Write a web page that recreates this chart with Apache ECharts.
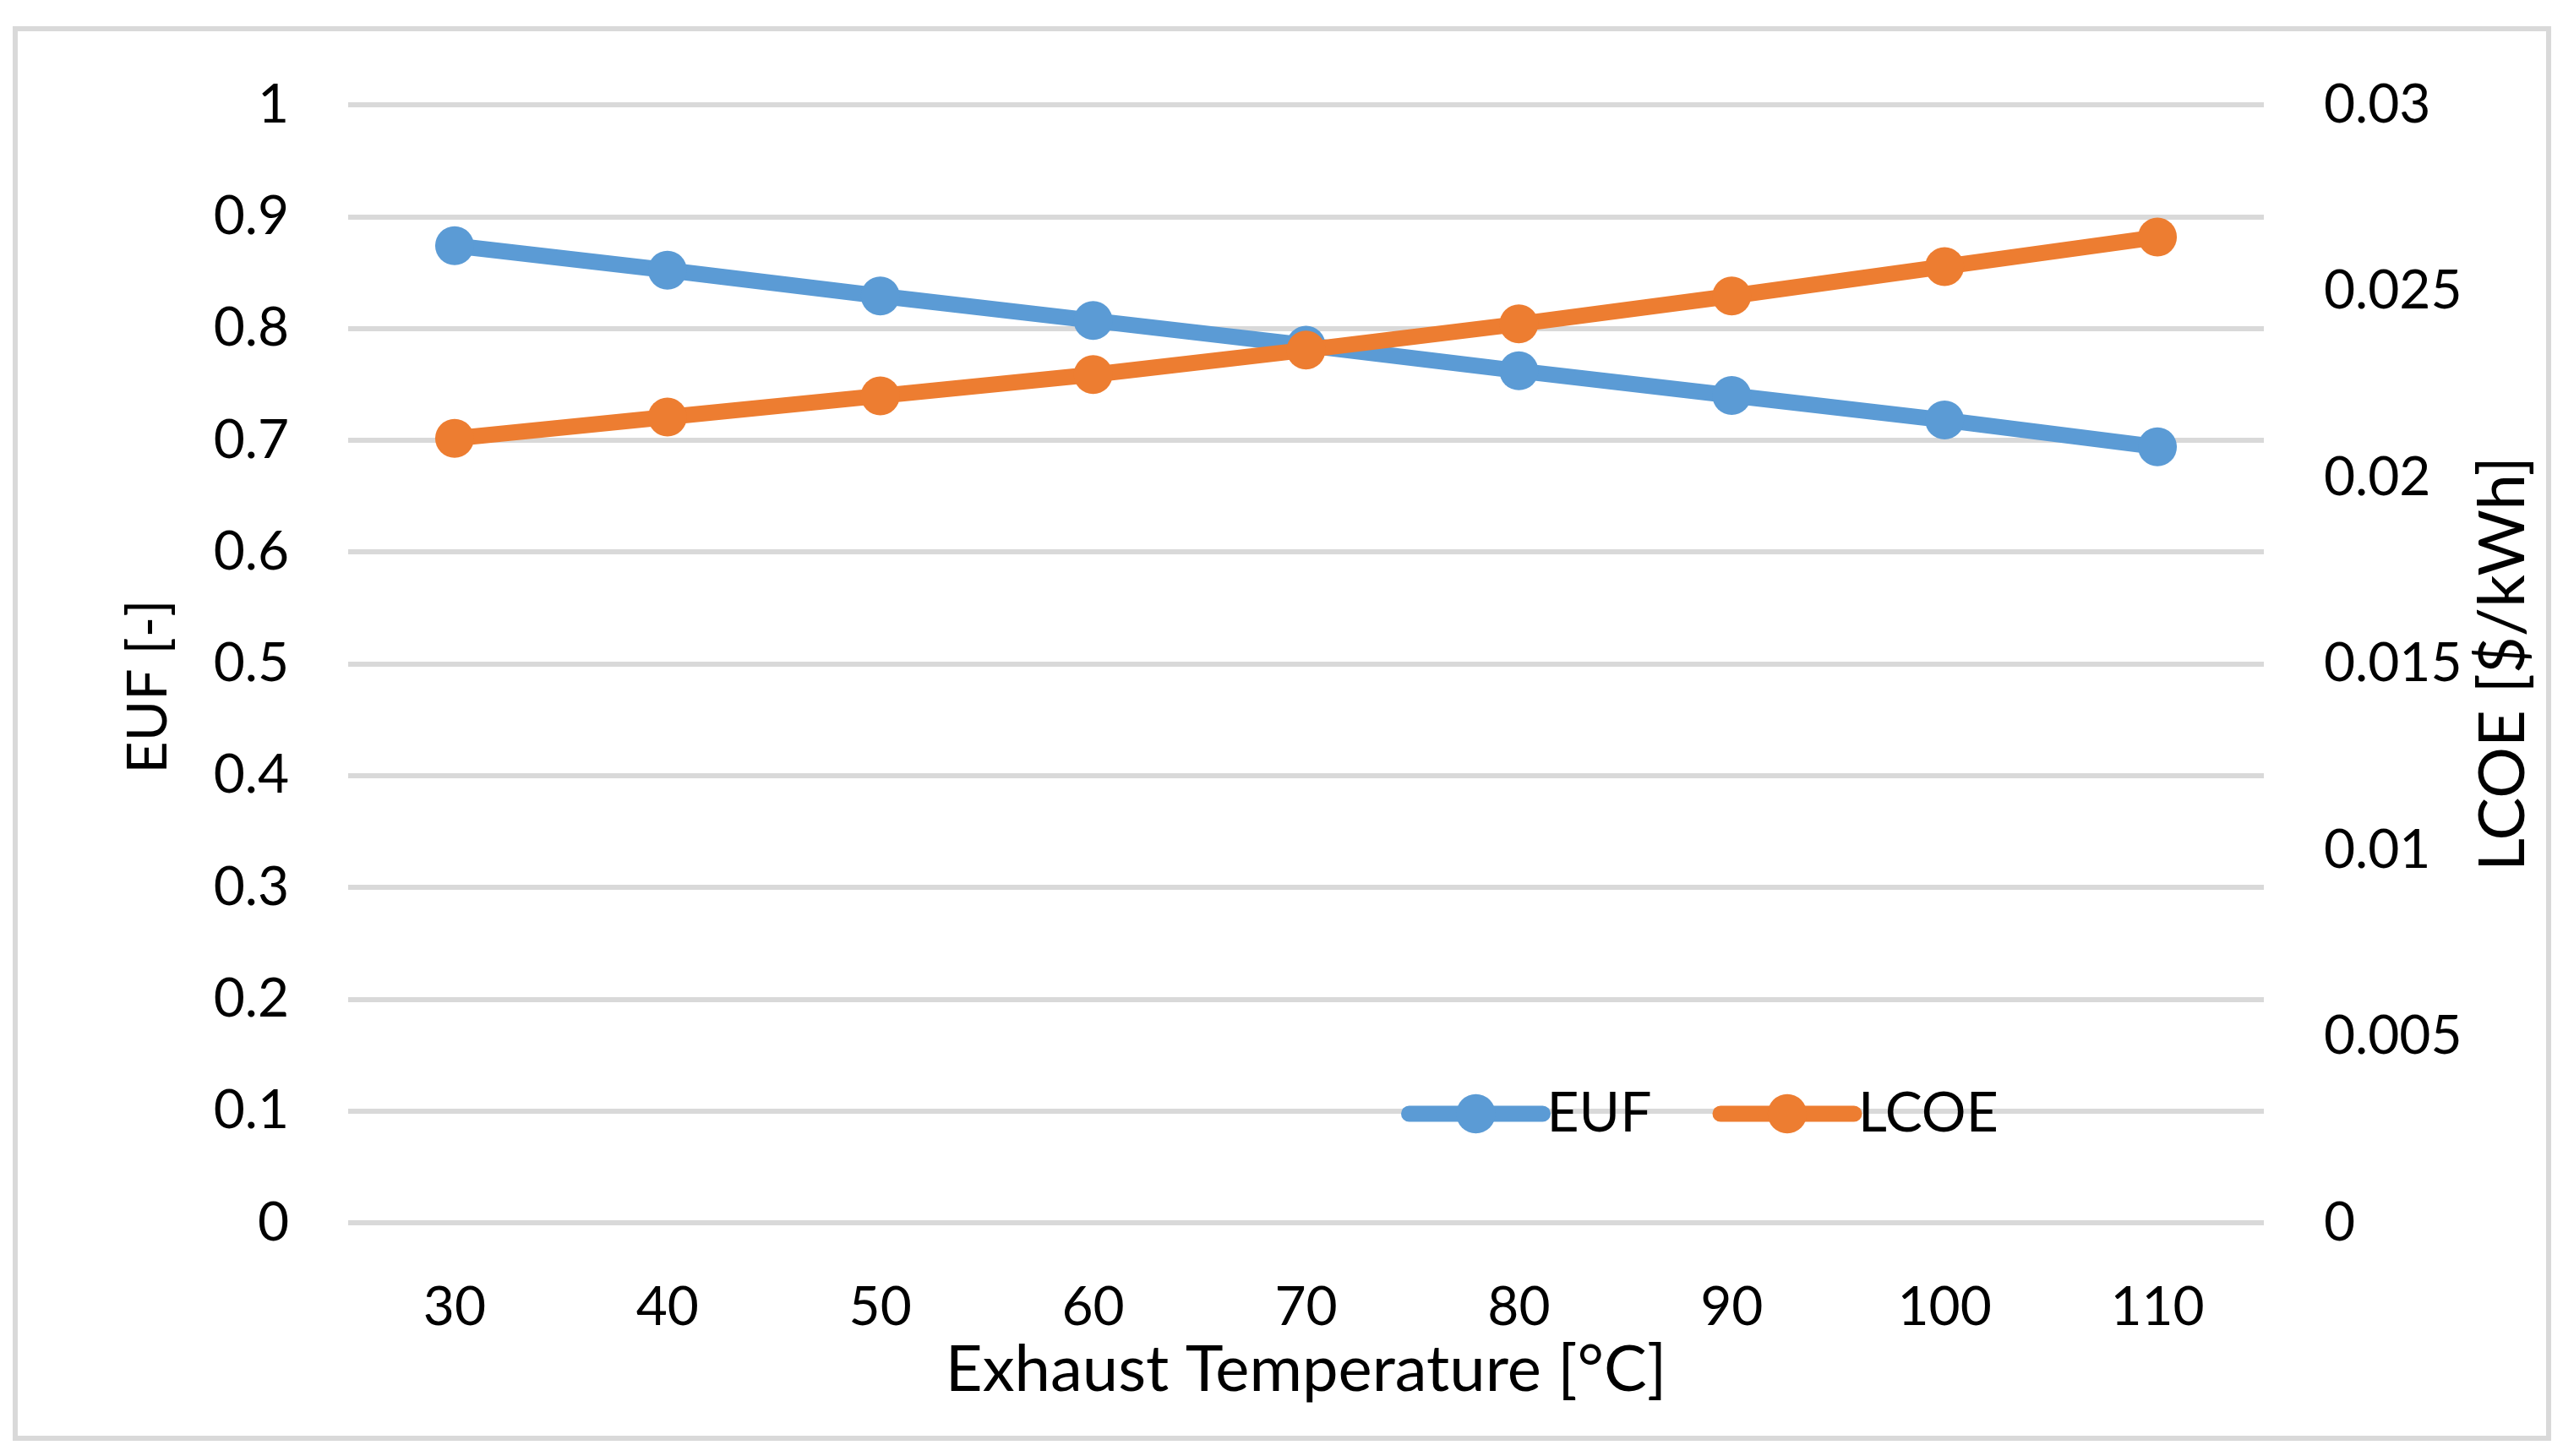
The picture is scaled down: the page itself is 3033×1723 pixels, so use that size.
<!DOCTYPE html>
<html>
<head>
<meta charset="utf-8">
<script src="https://cdn.jsdelivr.net/npm/echarts@6/dist/echarts.min.js"></script>
<style>html,body{margin:0;padding:0;background:#fff;}#c{width:3033px;height:1723px;}</style>
</head>
<body>
<div id="c"></div>
<script>
var categories = ['30','40','50','60','70','80','90','100','110'];
var eufValues = [0.874, 0.852, 0.829, 0.807, 0.785, 0.762, 0.740, 0.718, 0.694];
var lcoeValues = [0.02105, 0.02162, 0.02219, 0.02276, 0.02342, 0.02412, 0.02487, 0.02566, 0.02645];
var leftTicks = [0, 0.1, 0.2, 0.3, 0.4, 0.5, 0.6, 0.7, 0.8, 0.9, 1];
var rightTicks = [0, 0.005, 0.01, 0.015, 0.02, 0.025, 0.03];

var FONT = 'Lato';
var chart = echarts.init(document.getElementById('c'));
chart.setOption({
  animation: false,
  backgroundColor: '#fff',
  textStyle: {fontFamily: FONT},
  graphic: [{
    type: 'rect', shape: {x: 18, y: 34, width: 2998, height: 1668},
    style: {fill: 'none', stroke: '#d9d9d9', lineWidth: 6}, silent: true, z: -1
  }],
  grid: {left: 412, right: 354, top: 124, bottom: 276, containLabel: false},
  legend: {
    data: ['EUF', 'LCOE'],
    left: 1653, top: 1280,
    itemWidth: 158, itemHeight: 58, itemGap: 72,
    lineStyle: {width: 19, cap: 'round'},
    textStyle: {fontFamily: FONT, fontSize: 66, color: '#000', padding: [0, 0, 0, 0]}
  },
  xAxis: {
    type: 'category', data: categories, boundaryGap: true,
    axisLine: {show: false}, axisTick: {show: false},
    axisLabel: {fontFamily: FONT, fontSize: 64, color: '#000', margin: 68},
    name: 'Exhaust Temperature [°C]', nameLocation: 'middle', nameGap: 128,
    nameTextStyle: {fontFamily: FONT, fontSize: 76, color: '#000'}
  },
  yAxis: [{
    type: 'value', min: 0, max: 1, interval: 0.1,
    axisLine: {show: false}, axisTick: {show: false},
    axisLabel: {fontFamily: FONT, fontSize: 64, color: '#000', margin: 70,
      formatter: function (v) { return leftTicks.indexOf(Math.round(v*10)/10) >= 0 ? String(Math.round(v*10)/10) : ''; }},
    splitLine: {lineStyle: {color: '#d9d9d9', width: 6}},
    name: 'EUF [-]', nameLocation: 'middle', nameGap: 203,
    nameTextStyle: {fontFamily: FONT, fontSize: 66, color: '#000', padding: [0, 54, 0, 0]}
  }, {
    type: 'value', min: 0, max: 0.03, interval: 0.005,
    axisLine: {show: false}, axisTick: {show: false},
    axisLabel: {fontFamily: FONT, fontSize: 64, color: '#000', margin: 71,
      formatter: function (v) { var r = Math.round(v*1000)/1000; return rightTicks.indexOf(r) >= 0 ? String(r) : ''; }},
    splitLine: {show: false},
    name: 'LCOE [$/kWh]', nameLocation: 'middle', nameGap: 240,
    nameTextStyle: {fontFamily: FONT, fontSize: 76, color: '#000'}
  }],
  series: [{
    name: 'EUF', type: 'line', yAxisIndex: 0, data: eufValues,
    symbol: 'circle', symbolSize: 46,
    itemStyle: {color: '#5B9BD5'},
    lineStyle: {color: '#5B9BD5', width: 19}, z: 2
  }, {
    name: 'LCOE', type: 'line', yAxisIndex: 1, data: lcoeValues,
    symbol: 'circle', symbolSize: 46,
    itemStyle: {color: '#ED7D31'},
    lineStyle: {color: '#ED7D31', width: 19}, z: 3
  }]
});
</script>
</body>
</html>
